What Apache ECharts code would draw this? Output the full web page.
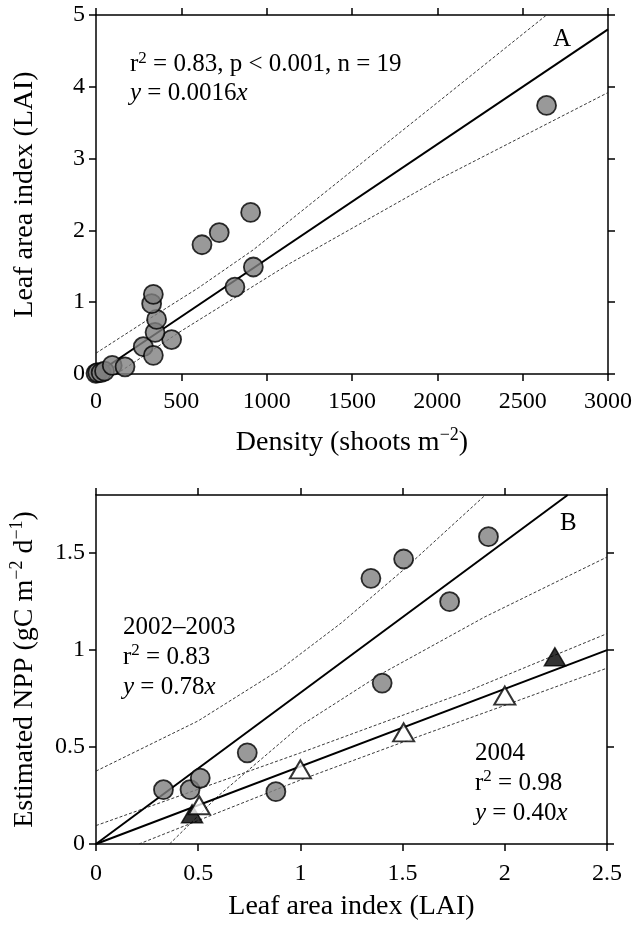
<!DOCTYPE html>
<html>
<head>
<meta charset="utf-8">
<script src="https://cdn.jsdelivr.net/npm/echarts@6/dist/echarts.min.js"></script>
<style>
  html, body { margin: 0; padding: 0; background: #fff; }
  #main { width: 635px; height: 925px; }
</style>
</head>
<body>
<div id="main"></div>
<script>
// Panel A: shoot density vs leaf area index
const densityA = [0, 10, 30, 50, 95, 170, 277, 336, 443, 346, 355, 326, 336, 814, 922, 621, 722, 906, 2640]
const laiA = [0.01, 0.02, 0.02, 0.04, 0.12, 0.10, 0.38, 0.26, 0.48, 0.58, 0.76, 0.98, 1.11, 1.21, 1.49, 1.80, 1.97, 2.25, 3.74]
const slopeA = 0.0016
const upperBandA = [[0, 0.29], [300, 0.75], [600, 1.2], [922, 1.73], [1300, 2.45], [2000, 3.78], [2640, 5]]
const lowerBandA = [[120, 0], [500, 0.6], [1136, 1.54], [2000, 2.7], [3000, 3.92]]

// Panel B: LAI vs estimated NPP
const laiB0203 = [0.33, 0.46, 0.51, 0.74, 0.88, 1.345, 1.505, 1.73, 1.92, 1.40]
const nppB0203 = [0.28, 0.28, 0.34, 0.47, 0.27, 1.37, 1.47, 1.25, 1.585, 0.83]
const laiB04open = [0.505, 1.0, 1.505, 2.0]
const nppB04open = [0.20, 0.385, 0.576, 0.765]
const laiB04filled = [0.47, 2.245]
const nppB04filled = [0.156, 0.966]
const slope0203 = 0.78
const slope04 = 0.40
const upperBand0203 = [[0, 0.376], [0.5, 0.635], [0.9, 0.9], [1.2, 1.14], [1.5, 1.41], [1.905, 1.8]]
const lowerBand0203 = [[0.36, 0], [0.6, 0.25], [1.0, 0.61], [1.4, 0.88], [1.9, 1.17], [2.5, 1.48]]
const upperBand04 = [[0, 0.095], [1, 0.47], [1.8, 0.78], [2.5, 1.085]]
const lowerBand04 = [[0.21, 0], [1, 0.33], [1.5, 0.525], [2, 0.715], [2.5, 0.907]]

const FONT = 'Liberation Serif'
const zip = (xs, ys) => xs.map((x, i) => [x, ys[i]])

const supRich = {
  sup: { fontSize: 18, fontFamily: FONT, color: '#000', verticalAlign: 'top', lineHeight: 18 }
}
const textRich = {
  sup: { fontSize: 17, fontFamily: FONT, verticalAlign: 'top', lineHeight: 17 },
  i: { fontStyle: 'italic', fontFamily: FONT, fontSize: 25 }
}

function axis (extra) {
  const base = {
    type: 'value',
    axisLine: { onZero: false, lineStyle: { color: '#000', width: 1.5 } },
    axisTick: { length: 7, lineStyle: { color: '#000', width: 1.5 } },
    splitLine: { show: false },
    axisLabel: { color: '#000', fontFamily: FONT, fontSize: 24, formatter: v => String(v) },
    nameTextStyle: { color: '#000', fontFamily: FONT, fontSize: 28, lineHeight: 34, rich: supRich }
  }
  return Object.assign(base, extra, {
    axisLabel: Object.assign({}, base.axisLabel, extra.axisLabel),
    axisTick: Object.assign({}, base.axisTick, extra.axisTick)
  })
}

function band (data, xi, yi) {
  return {
    type: 'line', xAxisIndex: xi, yAxisIndex: yi, data: data,
    showSymbol: false, silent: true,
    lineStyle: { color: '#222', width: 0.9, type: [3, 2] }, z: 2
  }
}

function fit (slope, xmax, ymax, xi, yi) {
  const xEnd = Math.min(xmax, ymax / slope)
  return {
    type: 'line', xAxisIndex: xi, yAxisIndex: yi,
    data: [[0, 0], [xEnd, slope * xEnd]],
    showSymbol: false, silent: true,
    lineStyle: { color: '#000', width: 2 }, z: 3
  }
}

const circleStyle = { color: '#808080', borderColor: '#000', borderWidth: 1.8 }

let myChart = echarts.init(document.getElementById('main'))
const option = {
  animation: false,
  grid: [
    { left: 96, top: 15, width: 512, height: 359 },
    { left: 96, top: 495, width: 511, height: 354 }
  ],
  xAxis: [
    axis({ gridIndex: 0, min: 0, max: 3000, interval: 500, axisLabel: { margin: 16 },
      name: 'Density (shoots m{sup|\u22122})', nameLocation: 'middle', nameGap: 52 }),
    axis({ gridIndex: 0, position: 'top', min: 0, max: 3000, interval: 500, axisLabel: { show: false } }),
    axis({ gridIndex: 1, min: 0, max: 2.5, interval: 0.5, axisLabel: { margin: 18 },
      name: 'Leaf area index (LAI)', nameLocation: 'middle', nameGap: 46 }),
    axis({ gridIndex: 1, position: 'top', min: 0, max: 2.5, interval: 0.5, axisLabel: { show: false } })
  ],
  yAxis: [
    axis({ gridIndex: 0, min: 0, max: 5, interval: 1, axisLabel: { margin: 11 },
      name: 'Leaf area index (LAI)', nameLocation: 'middle', nameGap: 54, nameRotate: 90 }),
    axis({ gridIndex: 0, position: 'right', min: 0, max: 5, interval: 1, axisLabel: { show: false } }),
    axis({ gridIndex: 1, min: 0, max: 1.8, interval: 0.5,
      axisLabel: { margin: 11, customValues: [0, 0.5, 1, 1.5] },
      axisTick: { customValues: [0, 0.5, 1, 1.5] },
      name: 'Estimated NPP (gC m{sup|\u22122} d{sup|\u22121})', nameLocation: 'middle', nameGap: 54, nameRotate: 90 }),
    axis({ gridIndex: 1, position: 'right', min: 0, max: 1.8, interval: 0.5,
      axisLabel: { show: false }, axisTick: { customValues: [0, 0.5, 1, 1.5] } })
  ],
  series: [
    band(upperBandA, 0, 0),
    band(lowerBandA, 0, 0),
    fit(slopeA, 3000, 5, 0, 0),
    {
      type: 'scatter', xAxisIndex: 0, yAxisIndex: 0, data: zip(densityA, laiA),
      symbol: 'circle', symbolSize: 19, itemStyle: circleStyle, z: 5
    },
    band(upperBand0203, 2, 2),
    band(lowerBand0203, 2, 2),
    band(upperBand04, 2, 2),
    band(lowerBand04, 2, 2),
    fit(slope0203, 2.5, 1.8, 2, 2),
    fit(slope04, 2.5, 1.8, 2, 2),
    {
      type: 'scatter', xAxisIndex: 2, yAxisIndex: 2, data: zip(laiB0203, nppB0203),
      symbol: 'circle', symbolSize: 19, itemStyle: circleStyle, z: 5
    },
    {
      type: 'scatter', xAxisIndex: 2, yAxisIndex: 2, data: zip(laiB04filled, nppB04filled),
      symbol: 'triangle', symbolSize: [21, 18], itemStyle: { color: '#000', borderColor: '#000', borderWidth: 1.5 }, z: 5
    },
    {
      type: 'scatter', xAxisIndex: 2, yAxisIndex: 2, data: zip(laiB04open, nppB04open),
      symbol: 'triangle', symbolSize: [21, 18], itemStyle: { color: '#fff', borderColor: '#000', borderWidth: 2 }, z: 6
    }
  ],
  graphic: [
    {
      type: 'text', left: 130, top: 50,
      style: {
        text: 'r{sup|2} = 0.83, p < 0.001, n = 19\n{i|y} = 0.0016{i|x}',
        fontFamily: FONT, fontSize: 25, lineHeight: 29, fill: '#000', rich: textRich
      }
    },
    { type: 'text', left: 553, top: 27, style: { text: 'A', fontFamily: FONT, fontSize: 25, fill: '#000' } },
    { type: 'text', left: 560, top: 511, style: { text: 'B', fontFamily: FONT, fontSize: 25, fill: '#000' } },
    {
      type: 'text', left: 123, top: 612,
      style: {
        text: '2002\u20132003\nr{sup|2} = 0.83\n{i|y} = 0.78{i|x}',
        fontFamily: FONT, fontSize: 25, lineHeight: 30, fill: '#000', rich: textRich
      }
    },
    {
      type: 'text', left: 475, top: 738,
      style: {
        text: '2004\nr{sup|2} = 0.98\n{i|y} = 0.40{i|x}',
        fontFamily: FONT, fontSize: 25, lineHeight: 30, fill: '#000', rich: textRich
      }
    }
  ]
}
myChart.setOption(option)
</script>
</body>
</html>
